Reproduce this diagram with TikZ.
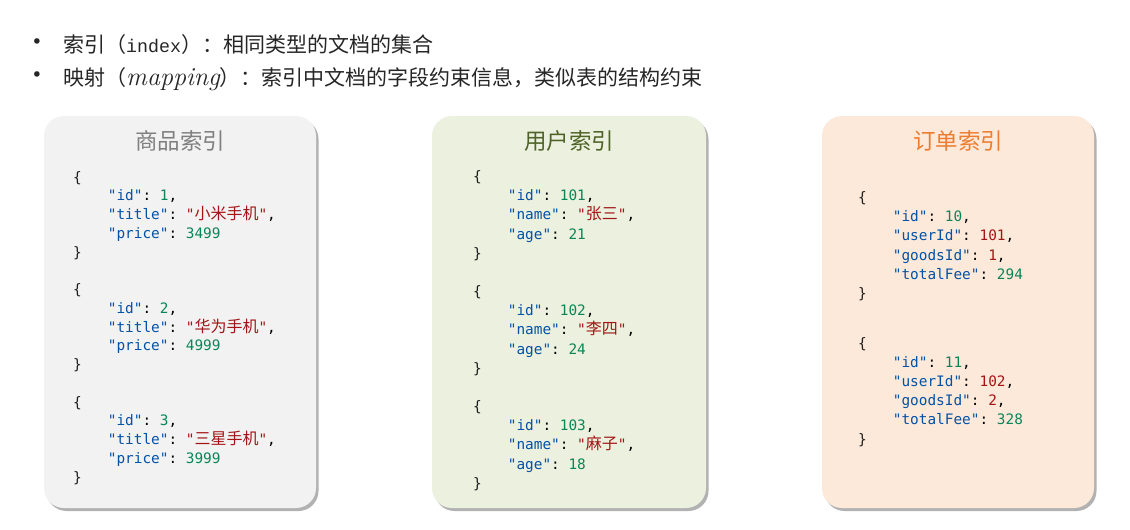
\documentclass[tikz,border=0pt]{standalone}
\usepackage{fontspec}
\usetikzlibrary{shadows}
\newfontfamily\cjk{Noto Sans CJK SC}
\newfontfamily\cjkc{Noto Sans CJK SC}[Scale=1.111]
\newfontfamily\code{DejaVu Sans Mono}
\newfontfamily\idxfont{Liberation Mono}
\newfontfamily\bulfont{DejaVu Sans}
\definecolor{keyc}{HTML}{0451A5}
\definecolor{numc}{HTML}{098658}
\definecolor{strc}{HTML}{A31515}
\definecolor{brc}{HTML}{1E1E1E}
\definecolor{txtc}{HTML}{262626}
\definecolor{fillA}{HTML}{F2F2F2}
\definecolor{fillB}{HTML}{EBF1DE}
\definecolor{fillC}{HTML}{FDE9D9}
\definecolor{titA}{HTML}{7F7F7F}
\definecolor{titB}{HTML}{4F6228}
\definecolor{titC}{HTML}{EC7C30}
\newcommand\jkey[1]{\textcolor{keyc}{"#1"}}
\newcommand\jnum[1]{\textcolor{numc}{#1}}
\newcommand\jred[1]{\textcolor{strc}{#1}}
\newcommand\jstr[1]{\textcolor{strc}{"\smash{\cjkc #1}"}}
\newcommand\jind{\phantom{0000}}
\newcommand\jlb{\textcolor{brc}{\{}}
\newcommand\jrb{\textcolor{brc}{\}}}
\tikzset{
  idxbox/.style={draw=none, rounded corners=20pt, inner sep=0pt,
    drop shadow={shadow xshift=2.5pt, shadow yshift=-3pt, opacity=0.3, fill=black}},
  idxtitle/.style={anchor=base, inner sep=0pt, font=\cjk\fontsize{22.5}{22.5}\selectfont},
  codeA/.style={anchor=base west, inner sep=0pt, font={\code\fontsize{14.4}{18.75}\selectfont\frenchspacing}},
  codeB/.style={anchor=base west, inner sep=0pt, font={\code\fontsize{14.4}{19.17}\selectfont\frenchspacing}},
  codeC/.style={anchor=base west, inner sep=0pt, font={\code\fontsize{14.4}{19.2}\selectfont\frenchspacing}},
  bullet/.style={inner sep=0pt, text=txtc, font=\bulfont\fontsize{19}{19}\selectfont},
  btext/.style={anchor=base west, inner sep=0pt, text=txtc, font=\cjk\fontsize{21}{21}\selectfont},
}
\begin{document}
\begin{tikzpicture}[x=1pt,y=-1pt]
\useasboundingbox[fill=white] (0,0) rectangle (1130,530);

% bullets
\node[bullet] (bu1) at (37,44) {•};
\node[bullet] (bu2) at (37,77) {•};
\node[btext] (l1) at (63,52) {索引（{\idxfont\fontsize{18.3}{21}\selectfont index}）：相同类型的文档的集合};
\node[btext] (l2) at (63,85) {映射（{\rmfamily\itshape\fontsize{26}{26}\selectfont mapping}）：索引中文档的字段约束信息，类似表的结构约束};

% boxes
\node[idxbox, fill=fillA, minimum width=272pt, minimum height=392pt] (box1) at (180,312) {};
\node[idxbox, fill=fillB, minimum width=274pt, minimum height=392pt] (box2) at (569,312) {};
\node[idxbox, fill=fillC, minimum width=272pt, minimum height=392pt] (box3) at (958,312) {};

% titles
\node[idxtitle, text=titA] (t1) at (180,149.5) {商品索引};
\node[idxtitle, text=titB] (t2) at (569,149.5) {用户索引};
\node[idxtitle, text=titC] (t3) at (958,149.5) {订单索引};

% code box 1
\node[codeA] (c1) at (73,182) {\begin{tabular}[t]{@{}l@{}}
\jlb\\
\jind\jkey{id}: \jnum{1},\\
\jind\jkey{title}: \jstr{小米手机},\\
\jind\jkey{price}: \jnum{3499}\\
\jrb\\
\\
\jlb\\
\jind\jkey{id}: \jnum{2},\\
\jind\jkey{title}: \jstr{华为手机},\\
\jind\jkey{price}: \jnum{4999}\\
\jrb\\
\\
\jlb\\
\jind\jkey{id}: \jnum{3},\\
\jind\jkey{title}: \jstr{三星手机},\\
\jind\jkey{price}: \jnum{3999}\\
\jrb
\end{tabular}};

% code box 2
\node[codeB] (c2) at (473,181.5) {\begin{tabular}[t]{@{}l@{}}
\jlb\\
\jind\jkey{id}: \jnum{101},\\
\jind\jkey{name}: \jstr{张三},\\
\jind\jkey{age}: \jnum{21}\\
\jrb\\
\\
\jlb\\
\jind\jkey{id}: \jnum{102},\\
\jind\jkey{name}: \jstr{李四},\\
\jind\jkey{age}: \jnum{24}\\
\jrb\\
\\
\jlb\\
\jind\jkey{id}: \jnum{103},\\
\jind\jkey{name}: \jstr{麻子},\\
\jind\jkey{age}: \jnum{18}\\
\jrb
\end{tabular}};

% code box 3
\node[codeC] (c3a) at (858,202.5) {\begin{tabular}[t]{@{}l@{}}
\jlb\\
\jind\jkey{id}: \jnum{10},\\
\jind\jkey{userId}: \jred{101},\\
\jind\jkey{goodsId}: \jred{1},\\
\jind\jkey{totalFee}: \jnum{294}\\
\jrb
\end{tabular}};
\node[codeC] (c3b) at (858,348) {\begin{tabular}[t]{@{}l@{}}
\jlb\\
\jind\jkey{id}: \jnum{11},\\
\jind\jkey{userId}: \jred{102},\\
\jind\jkey{goodsId}: \jred{2},\\
\jind\jkey{totalFee}: \jnum{328}\\
\jrb
\end{tabular}};
\end{tikzpicture}
\end{document}
